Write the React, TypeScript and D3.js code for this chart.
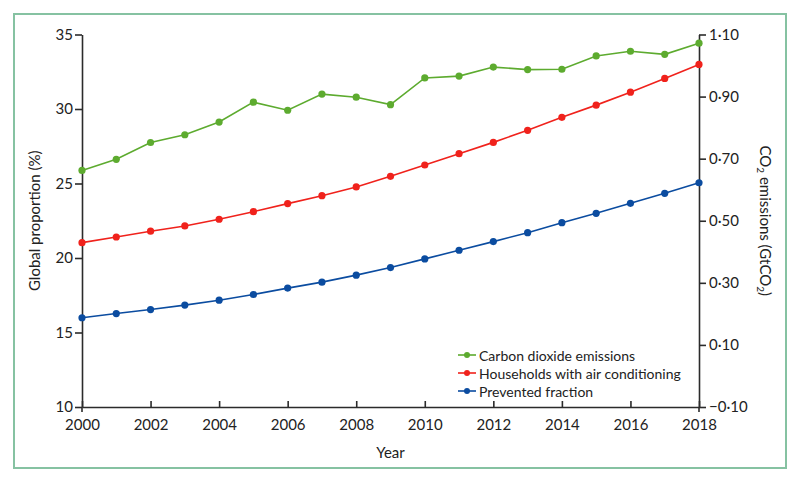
import { useEffect, useRef } from 'react'
import * as d3 from 'd3'

// years on the x axis
const years = d3.range(2000, 2019)

// CO2 emissions (GtCO2), right axis
const co2 = [0.662, 0.698, 0.752, 0.777, 0.818, 0.882, 0.856, 0.908, 0.898, 0.874,
  0.960, 0.966, 0.995, 0.987, 0.988, 1.031, 1.046, 1.036, 1.072]

// households with air conditioning (%), left axis
const households = [21.03, 21.41, 21.8, 22.15, 22.6, 23.11, 23.65, 24.18, 24.77, 25.48,
  26.24, 27.0, 27.76, 28.57, 29.44, 30.26, 31.13, 32.05, 32.99]

// prevented fraction (%), left axis
const prevented = [15.99, 16.27, 16.54, 16.84, 17.17, 17.55, 17.98, 18.38, 18.85, 19.36,
  19.94, 20.52, 21.1, 21.7, 22.37, 23.0, 23.67, 24.34, 25.05]

const leftTicks = [10, 15, 20, 25, 30, 35]
const rightTicks = [-0.1, 0.1, 0.3, 0.5, 0.7, 0.9, 1.1]
const xTicks = d3.range(2000, 2019, 2)

const legendItems = [
  { label: 'Carbon dioxide emissions', color: '#5dab2f' },
  { label: 'Households with air conditioning', color: '#f0221c' },
  { label: 'Prevented fraction', color: '#0b4ca0' },
]

const W = 800
const H = 483
const margin = { top: 34.5, right: 101, bottom: 76, left: 82 }
const FONT = 'Lato, "Open Sans", sans-serif'
const AXIS = '#2b2b2b'

// format 0.30 as 0·30 like the journal does
const fmtRight = (v: number) => {
  const s = Math.abs(v).toFixed(2).replace('.', '\u00b7')
  return v < 0 ? '\u2212' + s : s
}

export default function App() {
  const svgRef = useRef<SVGSVGElement>(null)

  useEffect(() => {
    if (!svgRef.current) return
    const svg = d3.select(svgRef.current)
    svg.selectAll('*').remove()

    const x = d3.scaleLinear().domain([2000, 2018]).range([margin.left, W - margin.right])
    const yL = d3.scaleLinear().domain([10, 35]).range([H - margin.bottom, margin.top])
    const yR = d3.scaleLinear().domain([-0.1, 1.1]).range([H - margin.bottom, margin.top])

    // outer frame
    svg.append('rect')
      .attr('x', 14).attr('y', 14)
      .attr('width', 772).attr('height', 454)
      .attr('fill', 'none')
      .attr('stroke', '#86c2a2')
      .attr('stroke-width', 2)

    // left axis
    const left = svg.append('g')
      .attr('transform', `translate(${margin.left},0)`)
      .call(d3.axisLeft(yL).tickValues(leftTicks).tickSize(7).tickPadding(2).tickSizeOuter(0))
    // right axis
    const right = svg.append('g')
      .attr('transform', `translate(${W - margin.right},0)`)
      .call(d3.axisRight(yR).tickValues(rightTicks).tickFormat(d => fmtRight(+d)).tickSize(7).tickPadding(3).tickSizeOuter(0))
    // bottom axis, ticks pointing inward
    const bottom = svg.append('g')
      .attr('transform', `translate(0,${H - margin.bottom})`)
      .call(d3.axisBottom(x).tickValues(xTicks).tickFormat(d3.format('d')).tickSize(-6).tickSizeOuter(0))
    bottom.selectAll('.tick text').attr('y', 12)
    ;[left, right, bottom].forEach(g => {
      g.select('.domain').attr('stroke', AXIS).attr('stroke-width', 1.6)
      g.selectAll('.tick line').attr('stroke', AXIS).attr('stroke-width', 1.6)
      g.selectAll('.tick text')
        .attr('fill', '#222')
        .style('font-family', FONT)
        .style('font-size', '15px')
    })
    // small notches below the corners
    svg.append('line')
      .attr('x1', margin.left).attr('x2', margin.left)
      .attr('y1', H - margin.bottom).attr('y2', H - margin.bottom + 5)
      .attr('stroke', AXIS).attr('stroke-width', 1.6)
    svg.append('line')
      .attr('x1', W - margin.right).attr('x2', W - margin.right)
      .attr('y1', H - margin.bottom).attr('y2', H - margin.bottom + 5)
      .attr('stroke', AXIS).attr('stroke-width', 1.6)

    // axis titles
    svg.append('text')
      .attr('transform', `translate(36,${(margin.top + H - margin.bottom) / 2}) rotate(-90)`)
      .attr('text-anchor', 'middle')
      .attr('dominant-baseline', 'middle')
      .style('font-family', FONT).style('font-size', '15px')
      .attr('fill', '#222')
      .text('Global proportion (%)')

    const rt = svg.append('text')
      .attr('transform', `translate(764,${(margin.top + H - margin.bottom) / 2}) rotate(90)`)
      .attr('text-anchor', 'middle')
      .attr('dominant-baseline', 'middle')
      .style('font-family', FONT).style('font-size', '15px')
      .attr('fill', '#222')
    rt.append('tspan').text('CO')
    rt.append('tspan').attr('font-size', '10px').attr('dy', 4).text('2')
    rt.append('tspan').attr('dy', -4).text(' emissions (GtCO')
    rt.append('tspan').attr('font-size', '10px').attr('dy', 4).text('2')
    rt.append('tspan').attr('dy', -4).text(')')

    svg.append('text')
      .attr('x', (margin.left + W - margin.right) / 2)
      .attr('y', 458)
      .attr('text-anchor', 'middle')
      .style('font-family', FONT).style('font-size', '15px')
      .attr('fill', '#222')
      .text('Year')

    // series
    const series = [
      { values: co2, y: yR, color: legendItems[0].color },
      { values: households, y: yL, color: legendItems[1].color },
      { values: prevented, y: yL, color: legendItems[2].color },
    ]
    series.forEach(s => {
      const line = d3.line<number>()
        .x((_, i) => x(years[i]))
        .y(d => s.y(d))
      svg.append('path')
        .datum(s.values)
        .attr('d', line)
        .attr('fill', 'none')
        .attr('stroke', s.color)
        .attr('stroke-width', 1.6)
      svg.append('g')
        .selectAll('circle')
        .data(s.values)
        .join('circle')
        .attr('cx', (_, i) => x(years[i]))
        .attr('cy', d => s.y(d))
        .attr('r', 3.6)
        .attr('fill', s.color)
    })

    // legend
    const legend = svg.append('g').attr('transform', 'translate(458,355)')
    legendItems.forEach((item, i) => {
      const g = legend.append('g').attr('transform', `translate(0,${i * 18})`)
      g.append('line')
        .attr('x1', 0).attr('x2', 18)
        .attr('stroke', item.color).attr('stroke-width', 1.6)
      g.append('circle').attr('cx', 9).attr('r', 3).attr('fill', item.color)
      g.append('text')
        .attr('x', 21).attr('y', 0)
        .attr('dominant-baseline', 'central')
        .style('font-family', FONT).style('font-size', '14px')
        .attr('fill', '#222')
        .text(item.label)
    })
  }, [])

  return (
    <svg
      ref={svgRef}
      width={W}
      height={H}
      style={{ position: 'absolute', left: 0, top: 0, background: '#fff' }}
    />
  )
}
